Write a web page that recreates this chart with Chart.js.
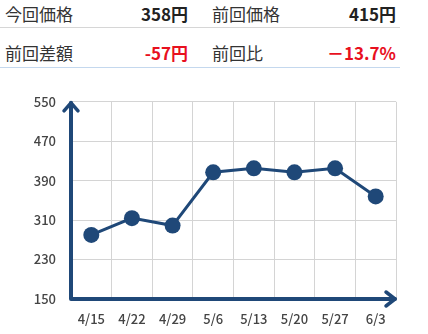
<!DOCTYPE html>
<html lang="ja">
<head>
<meta charset="utf-8">
<script src="https://cdn.jsdelivr.net/npm/chart.js@4/dist/chart.umd.min.js"></script>
<style>
  html, body { margin: 0; padding: 0; background: #fff; }
  body { width: 428px; height: 334px; position: relative; overflow: hidden;
         font-family: "Noto Sans CJK JP", "Noto Sans", sans-serif; color: #333; }
  .row { position: absolute; left: 0; width: 400px; height: 40px; }
  .row span { position: absolute; font-size: 17px; line-height: 20px; white-space: nowrap; }
  .row .lbl { font-weight: 400; }
  .row .val { font-weight: 700; color: #222; }
  .row .neg { color: #e8101e; }
  #r1 { top: 0; height: 27px; border-bottom: 1.5px solid #d6d6d6; }
  #r2 { top: 40px; height: 27px; border-bottom: 1.5px solid #c4d8ee; }
  #chart-wrap { position: absolute; left: 0; top: 79px; width: 428px; height: 255px; }
</style>
</head>
<body>
<div class="row" id="r1">
  <span class="lbl" style="left:5px;top:4px">今回価格</span>
  <span class="val" id="cur" style="right:212px;top:4px"></span>
  <span class="lbl" style="left:212px;top:4px">前回価格</span>
  <span class="val" id="prev" style="right:4px;top:4px"></span>
</div>
<div class="row" id="r2">
  <span class="lbl" style="left:5px;top:3px">前回差額</span>
  <span class="val neg" id="diff" style="right:212px;top:3px"></span>
  <span class="lbl" style="left:212px;top:3px">前回比</span>
  <span class="val neg" id="ratio" style="right:4px;top:3px"></span>
</div>
<div id="chart-wrap"><canvas id="c" width="428" height="255"></canvas></div>
<script>
"use strict";

// Weekly price points.
const DATES = ["4/15", "4/22", "4/29", "5/6", "5/13", "5/20", "5/27", "6/3"];
const PRICES = [280, 314, 299, 407, 415, 407, 415, 358];
const Y_MIN = 150;
const Y_MAX = 550;
const Y_STEP = 80;

const INK = "#1f4878";

// Summary row comes straight from the last two points.
const cur = PRICES[PRICES.length - 1];
const prev = PRICES[PRICES.length - 2];
document.getElementById("cur").textContent = `${cur}円`;
document.getElementById("prev").textContent = `${prev}円`;
document.getElementById("diff").textContent = `${cur - prev}円`;
document.getElementById("ratio").textContent = `－${Math.abs(((cur - prev) / prev) * 100).toFixed(1)}%`;

// Thick axes with open arrowheads, drawn on the chart area edges.
const arrowAxes = {
  id: "arrowAxes",
  afterDatasetsDraw(chart) {
    const { ctx, chartArea: a } = chart;
    const x0 = a.left, y0 = a.bottom;
    ctx.save();
    ctx.strokeStyle = INK;
    ctx.lineWidth = 4;
    ctx.lineCap = "round";
    ctx.lineJoin = "round";
    ctx.beginPath();
    ctx.moveTo(x0, a.top + 1);
    ctx.lineTo(x0, y0);
    ctx.lineTo(a.right - 1, y0);
    ctx.stroke();
    ctx.lineWidth = 3.5;
    ctx.beginPath();
    ctx.moveTo(x0 - 7, a.top + 9);
    ctx.lineTo(x0, a.top + 1);
    ctx.lineTo(x0 + 7, a.top + 9);
    ctx.moveTo(a.right - 10, y0 - 7);
    ctx.lineTo(a.right - 1, y0);
    ctx.lineTo(a.right - 10, y0 + 7);
    ctx.stroke();
    ctx.restore();
  },
};

new Chart(document.getElementById("c"), {
  type: "line",
  data: {
    labels: DATES,
    datasets: [{
      data: PRICES,
      borderColor: INK,
      backgroundColor: INK,
      borderWidth: 3,
      pointRadius: 8,
      pointBorderWidth: 0,
      pointBackgroundColor: INK,
      tension: 0,
      clip: false,
    }],
  },
  options: {
    responsive: false,
    animation: false,
    layout: { padding: { top: 11, right: 32, left: 0, bottom: 0 } },
    plugins: { legend: { display: false }, tooltip: { enabled: false } },
    scales: {
      x: {
        offset: true,
        grid: { color: "#d4d4d4", lineWidth: 1, offset: true, drawTicks: false },
        border: { display: false },
        ticks: { color: "#444", padding: 12, font: { family: "Noto Sans CJK JP", size: 13, weight: 500 } },
        afterFit: (s) => { s.height = 35; },
      },
      y: {
        min: Y_MIN,
        max: Y_MAX,
        grid: { color: "#d4d4d4", lineWidth: 1, drawTicks: false },
        border: { display: false },
        ticks: { stepSize: Y_STEP, color: "#444", padding: 15, font: { family: "Noto Sans CJK JP", size: 13, weight: 500 } },
        afterFit: (s) => { s.width = 71; },
      },
    },
  },
  plugins: [arrowAxes],
});
</script>
</body>
</html>
